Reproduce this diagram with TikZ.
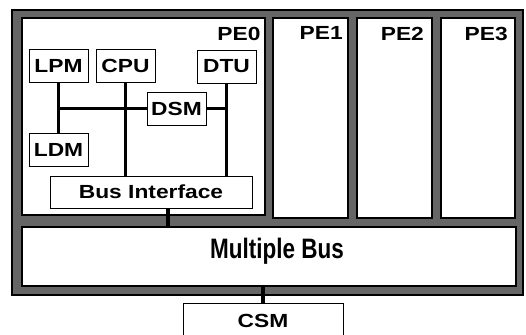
\documentclass[tikz,border=0pt]{standalone}
\usepackage{fontspec}
\setmainfont{Liberation Sans}
\newfontfamily\unitfont[FakeStretch=1.2]{Liberation Sans}
\newfontfamily\busfont[FakeStretch=0.8]{Liberation Sans}
\usetikzlibrary{positioning,fit}
\definecolor{MBHatch}{gray}{0.4}

\begin{document}
\begin{tikzpicture}[x=0.25mm,y=-0.25mm,
 unit/.style={draw=black,line width=0.6pt,fill=white,inner sep=0pt,minimum width=14.75mm,minimum height=8.25mm,font=\unitfont\fontsize{13.5}{15}\selectfont\bfseries},
 region/.style={draw=black,line width=1.4pt,fill=white,inner sep=0pt},
 pelabel/.style={inner sep=0pt,anchor=north east,font=\unitfont\fontsize{13.5}{15}\selectfont\bfseries},
 wire/.style={line width=2.4pt}]
\useasboundingbox (0,0) rectangle (526,334);
% hatched frame
\draw[line width=1.4pt,fill=MBHatch] (12,10) rectangle (523,295);
\node[region,fit={(22,18) (265,215)}] (pe0) {};
\node[region,fit={(273,18) (348,218)}] (pe1) {};
\node[region,fit={(357,18) (432,218)}] (pe2) {};
\node[region,fit={(441,18) (515,218)}] (pe3) {};
\node[region,fit={(22,227) (516,286)}] (bus) {};
\node[font=\busfont\fontsize{20}{22}\selectfont\bfseries] (buslbl) at (277,251) {Multiple Bus};
% PE labels
\node[pelabel] (pe0lbl) at ([xshift=-1.3mm,yshift=-2.4mm]pe0.north east) {PE0};
\node[pelabel] (pe1lbl) at ([xshift=-1.5mm,yshift=-2.4mm]pe1.north east) {PE1};
\node[pelabel] (pe2lbl) at ([xshift=-2.2mm,yshift=-2.4mm]pe2.north east) {PE2};
\node[pelabel] (pe3lbl) at ([xshift=-2mm,yshift=-2.4mm]pe3.north east) {PE3};
% units inside PE0
\node[unit] (lpm) at (58.5,65.5) {LPM};
\node[unit] (cpu) at (125.5,65.5) {CPU};
\node[unit] (dtu) at (226.5,66.5) {DTU};
\node[unit] (dsm) at (176.5,108.5) {DSM};
\node[unit] (ldm) at (58.5,150) {LDM};
\node[unit,minimum width=50.5mm,minimum height=8mm] (bif) at (151,192) {Bus Interface};
\node[unit,minimum width=40mm,minimum height=8.75mm] (csm) at (263,320.5) {CSM};
% connections
\draw[wire] (lpm.south) -- (ldm.north);
\draw[wire] (lpm.south |- dsm.west) -- (dsm.west);
\draw[wire] (cpu.south) -- (cpu.south |- bif.north);
\draw[wire] (dtu.south) -- (dtu.south |- bif.north);
\draw[wire] (dsm.east) -- (dsm.east -| dtu.south);
\draw[wire] ([xshift=4.25mm]bif.south) -- ([xshift=4.25mm]bif.south |- bus.north);
\draw[wire] (csm.north) -- (csm.north |- bus.south);
\end{tikzpicture}
\end{document}
